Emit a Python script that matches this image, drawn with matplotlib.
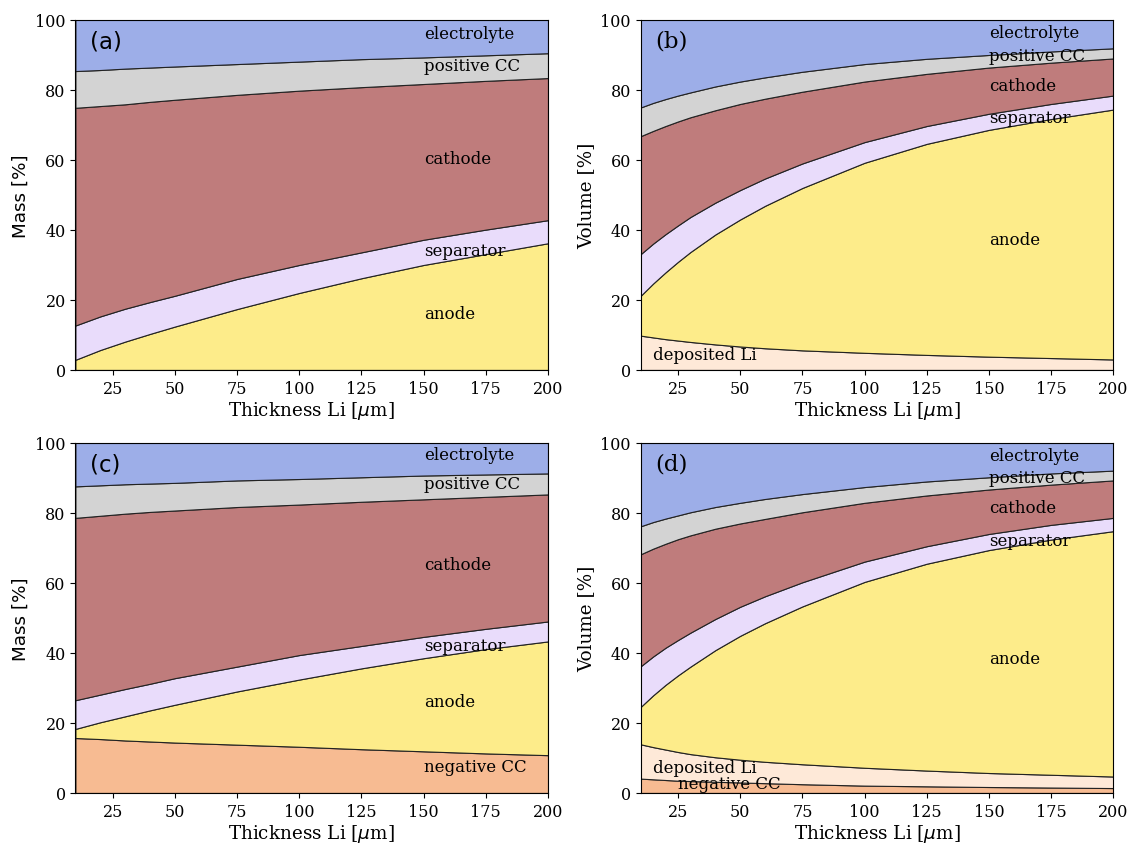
import numpy as np
import matplotlib.pyplot as plt

# Li thickness [um]
thickness = [10, 20, 30, 40, 50, 75, 100, 125, 150, 175, 200]
thickness_vol = [10, 15, 20, 25, 30, 40, 50, 60, 75, 100, 125, 150, 175, 200]

# (a) mass share, Li metal anode [%]
a_anode = [2.9, 5.7, 8.1, 10.3, 12.4, 17.4, 22.0, 26.2, 30.0, 33.1, 36.2]
a_separator = [9.8, 9.6, 9.4, 9.1, 8.8, 8.6, 8.0, 7.4, 7.2, 7.0, 6.6]
a_cathode = [62.2, 60.1, 58.4, 57.2, 56.0, 52.6, 49.8, 47.2, 44.5, 42.5, 40.6]
a_pos_cc = [10.5, 10.3, 10.2, 9.8, 9.5, 8.8, 8.3, 8.0, 7.6, 7.3, 7.1]

# (b) volume share, Li metal anode [%]
b_deposited = [9.8, 9.3, 8.8, 8.4, 8.0, 7.3, 6.7, 6.2, 5.6, 4.9, 4.3, 3.8, 3.4, 3.0]
b_anode = [11.4, 15.4, 19.1, 22.5, 25.7, 31.4, 36.3, 40.7, 46.4, 54.3, 60.3, 64.8, 68.3, 71.4]
b_separator = [11.9, 11.4, 10.9, 10.4, 10.0, 9.1, 8.4, 7.8, 7.0, 5.9, 5.1, 4.6, 4.3, 4.0]
b_cathode = [33.7, 32.2, 30.9, 29.7, 28.5, 26.4, 24.6, 22.8, 20.5, 17.3, 14.9, 13.2, 11.8, 10.6]
b_pos_cc = [8.2, 8.0, 7.7, 7.4, 7.1, 6.8, 6.4, 6.1, 5.7, 5.0, 4.3, 3.6, 3.2, 2.9]

# (c) mass share, with negative current collector [%]
c_neg_cc = [15.7, 15.4, 15.0, 14.7, 14.4, 13.8, 13.2, 12.5, 11.9, 11.3, 10.8]
c_anode = [2.6, 4.8, 6.9, 8.9, 10.8, 15.2, 19.2, 23.1, 26.6, 29.8, 32.5]
c_separator = [8.2, 7.9, 7.8, 7.6, 7.6, 7.1, 7.0, 6.4, 6.1, 5.8, 5.7]
c_cathode = [52.1, 51.1, 50.1, 49.1, 47.9, 45.6, 43.0, 41.2, 39.3, 37.7, 36.3]
c_pos_cc = [9.0, 8.7, 8.4, 8.1, 7.9, 7.6, 7.3, 7.0, 6.8, 6.4, 6.0]

# (d) volume share, with negative current collector [%]
d_neg_cc = [4.1, 3.9, 3.7, 3.5, 3.4, 3.2, 3.0, 2.8, 2.5, 2.1, 1.9, 1.7, 1.55, 1.4]
d_deposited = [9.8, 9.2, 8.7, 8.2, 7.7, 7.0, 6.5, 6.1, 5.7, 5.1, 4.5, 4.0, 3.65, 3.3]
d_anode = [10.7, 14.8, 18.5, 21.9, 25.0, 30.6, 35.4, 39.6, 45.1, 53.1, 59.1, 63.7, 67.2, 70.1]
d_separator = [11.6, 11.1, 10.6, 10.1, 9.7, 8.9, 8.3, 7.7, 6.9, 5.8, 5.0, 4.6, 4.2, 3.8]
d_cathode = [32.0, 30.8, 29.7, 28.8, 27.8, 25.8, 23.8, 22.1, 20.0, 16.8, 14.5, 12.7, 11.5, 10.7]
d_pos_cc = [8.0, 7.6, 7.2, 6.8, 6.6, 6.2, 5.9, 5.7, 5.2, 4.5, 4.0, 3.5, 3.2, 2.8]

colors = {
    'negative CC': '#f7bb92',
    'deposited Li': '#fee9d8',
    'anode': '#fdec8a',
    'separator': '#e9dcfb',
    'cathode': '#bf7c7c',
    'positive CC': '#d3d3d3',
    'electrolyte': '#9daee8',
}

SERIF = 'DejaVu Serif'
SANS = 'DejaVu Sans'


def plot_stack(ax, x, layers, labels, ylabel, tag, ylabel_font):
    """Stacked shares, bottom to top, electrolyte fills the rest to 100 %."""
    x = np.array(x, dtype=float)
    names = [n for n, _ in layers] + ['electrolyte']
    vals = [np.array(v, dtype=float) for _, v in layers]
    vals.append(100 - np.sum(vals, axis=0))
    base = np.zeros_like(x)
    for name, v in zip(names, vals):
        top = base + v
        ax.fill_between(x, base, top, facecolor=colors[name],
                        edgecolor='#222222', linewidth=0.8)
        base = top
    for name, (lx, ly) in labels.items():
        ax.text(lx, ly, name, va='center', ha='left',
                fontsize=12, family=SERIF)
    ax.set_xlim(10, 200)
    ax.set_ylim(0, 100)
    ax.set_xticks([25, 50, 75, 100, 125, 150, 175, 200])
    ax.set_yticks([0, 20, 40, 60, 80, 100])
    for lab in ax.get_xticklabels() + ax.get_yticklabels():
        lab.set_family(SERIF)
        lab.set_fontsize(11.5)
    ax.set_xlabel(r'Thickness Li [$\mu$m]', family=SERIF, fontsize=13.2,
                  labelpad=1.5)
    ax.set_ylabel(ylabel, family=ylabel_font, fontsize=13.2)
    ax.text(0.03, 0.94, tag, transform=ax.transAxes, va='center',
            fontsize=16.5, family=ylabel_font)


fig = plt.figure(figsize=(11.29, 8.45), dpi=100)
w, h = 0.4186, 0.4142
ax_a = fig.add_axes([0.0668, 0.561, w, h])
ax_b = fig.add_axes([0.5675, 0.561, w, h])
ax_c = fig.add_axes([0.0668, 0.0604, w, h])
ax_d = fig.add_axes([0.5675, 0.0604, w, h])

plot_stack(ax_a, thickness,
           [('anode', a_anode), ('separator', a_separator),
            ('cathode', a_cathode), ('positive CC', a_pos_cc)],
           {'electrolyte': (150, 96.0), 'positive CC': (150, 87.0),
            'cathode': (150, 60.3), 'separator': (150, 34.0),
            'anode': (150, 16.0)},
           'Mass [%]', '(a)', SANS)
plot_stack(ax_b, thickness_vol,
           [('deposited Li', b_deposited), ('anode', b_anode),
            ('separator', b_separator), ('cathode', b_cathode),
            ('positive CC', b_pos_cc)],
           {'electrolyte': (150, 96.5), 'positive CC': (150, 89.8),
            'cathode': (150, 81.2), 'separator': (150, 72.0),
            'anode': (150, 37.4), 'deposited Li': (15, 4.3)},
           'Volume [%]', '(b)', SERIF)
plot_stack(ax_c, thickness,
           [('negative CC', c_neg_cc), ('anode', c_anode),
            ('separator', c_separator), ('cathode', c_cathode),
            ('positive CC', c_pos_cc)],
           {'electrolyte': (150, 96.7), 'positive CC': (150, 88.5),
            'cathode': (150, 65.3), 'separator': (150, 42.0),
            'anode': (150, 26.1), 'negative CC': (150, 7.5)},
           'Mass [%]', '(c)', SANS)
plot_stack(ax_d, thickness_vol,
           [('negative CC', d_neg_cc), ('deposited Li', d_deposited),
            ('anode', d_anode), ('separator', d_separator),
            ('cathode', d_cathode), ('positive CC', d_pos_cc)],
           {'electrolyte': (150, 96.4), 'positive CC': (150, 90.0),
            'cathode': (150, 81.5), 'separator': (150, 72.2),
            'anode': (150, 38.5), 'deposited Li': (15, 7.3),
            'negative CC': (25, 2.6)},
           'Volume [%]', '(d)', SERIF)

fig.savefig('out.png', dpi=100)
